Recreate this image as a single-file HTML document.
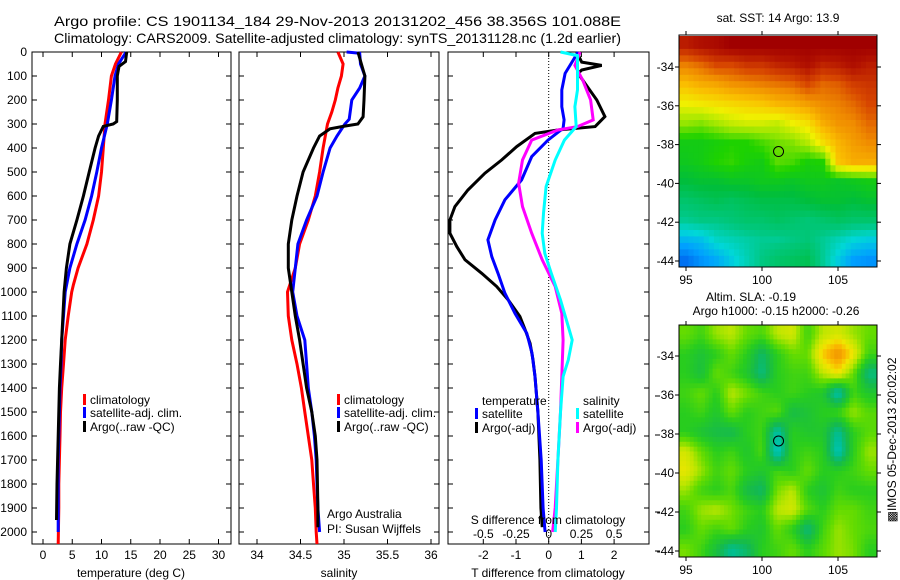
<!DOCTYPE html>
<html><head><meta charset="utf-8"><title>Argo profile</title>
<style>
html,body{margin:0;padding:0;background:#fff;}
svg{display:block;font-family:"Liberation Sans",sans-serif;}
text{fill:#000;}
</style></head>
<body>
<svg id="fig" width="900" height="580" viewBox="0 0 900 580" xmlns="http://www.w3.org/2000/svg">
<rect x="0" y="0" width="900" height="580" fill="#fff"/>
<text x="54" y="26" font-size="14" textLength="567" lengthAdjust="spacingAndGlyphs">Argo profile: CS 1901134_184 29-Nov-2013 20131202_456 38.356S 101.088E</text>
<text x="54" y="43" font-size="14" textLength="567" lengthAdjust="spacingAndGlyphs">Climatology: CARS2009. Satellite-adjusted climatology: synTS_20131128.nc (1.2d earlier)</text>
<g id="g-temp"></g>
<g id="g-sal"></g>
<g id="g-diff"></g>
<g id="g-sst"></g>
<g id="g-sla"></g>
<text x="778" y="22" font-size="12" text-anchor="middle">sat. SST: 14 Argo: 13.9</text>
<text x="751" y="301" font-size="12" text-anchor="middle">Altim. SLA: -0.19</text>
<text x="776" y="315" font-size="12" text-anchor="middle">Argo h1000: -0.15 h2000: -0.26</text>
<text x="0" y="0" font-size="12" text-anchor="middle" transform="translate(896,440) rotate(-90)">&#9641;IMOS 05-Dec-2013 20:02:02</text>
</svg>
<script>
// ---------- profile data ----------
const tempClimDepth = [0,50,100,200,300,400,500,600,700,800,900,970,1000,1100,1200,1300,1400,1500,1600,1700,1800,1900,2050];
const tempClim = [13.4,12.4,11.7,11.2,10.6,10.3,10.0,9.5,8.6,7.5,6.0,5.2,4.9,4.3,3.8,3.5,3.2,3.0,2.9,2.8,2.7,2.7,2.6];
const tempSatDepth = [0,50,100,200,300,400,500,600,700,800,900,1000,1100,1200,1300,1400,1500,1600,1700,1800,1900,2000];
const tempSat = [14.2,12.9,12.3,11.7,11.0,10.0,9.2,8.3,7.2,5.8,4.6,3.8,3.5,3.2,3.1,2.9,2.8,2.7,2.6,2.6,2.6,2.6];
const tempArgoDepth = [0,40,60,100,200,290,300,310,350,400,500,600,700,800,900,1000,1100,1200,1300,1400,1500,1600,1800,1950];
const tempArgo = [14.3,14.1,13.0,12.7,12.7,12.6,12.0,10.3,9.5,8.9,7.9,6.9,5.8,4.6,4.0,3.6,3.4,3.2,3.0,2.8,2.7,2.6,2.4,2.3];

const salClimDepth = [0,50,100,150,200,250,300,400,500,600,700,800,900,1000,1100,1200,1300,1400,1500,1600,1700,1800,1900,2000,2050];
const salClim = [34.93,34.99,34.97,34.93,34.90,34.86,34.81,34.76,34.72,34.67,34.59,34.49,34.44,34.35,34.36,34.40,34.46,34.51,34.55,34.59,34.63,34.65,34.67,34.68,34.69];
const salSatDepth = [0,5,50,100,150,200,280,300,350,400,500,600,700,800,900,1000,1100,1200,1300,1400,1500,1600,1700,1800,1900,2000];
const salSat = [35.03,35.18,35.19,35.24,35.18,35.09,35.06,35.01,34.92,34.84,34.76,34.69,34.57,34.47,34.44,34.41,34.46,34.55,34.57,34.59,34.63,34.66,34.68,34.69,34.70,34.72];
const salArgoDepth = [0,50,100,200,270,300,310,320,350,400,500,600,700,800,900,1000,1100,1200,1300,1400,1500,1600,1700,1900,1980];
const salArgo = [35.16,35.20,35.24,35.23,35.22,35.16,34.99,34.84,34.72,34.65,34.53,34.46,34.40,34.36,34.36,34.40,34.44,34.49,34.53,34.57,34.63,34.67,34.69,34.70,34.70];

const dTArgoDepth = [0,42,56,75,89,131,200,269,311,325,339,394,450,505,575,644,700,755,811,866,922,977,1033,1102,1158,1214,1283,1352,1500,1700,1900,1980];
const dTArgo = [0.86,1.01,1.62,1.01,0.90,1.11,1.47,1.72,1.42,0.28,-0.42,-0.98,-1.44,-1.95,-2.47,-2.87,-3.02,-3.02,-2.81,-2.56,-2.05,-1.59,-1.24,-0.88,-0.72,-0.57,-0.48,-0.42,-0.33,-0.27,-0.24,-0.20];
const dTSatDepth = [0,56,89,158,228,283,318,367,436,533,616,700,783,853,922,1005,1089,1172,1255,1352,1500,1700,1900,2000];
const dTSat = [0.90,0.65,0.50,0.40,0.40,0.47,0.44,-0.02,-0.52,-0.83,-1.34,-1.64,-1.86,-1.74,-1.55,-1.34,-1.03,-0.67,-0.51,-0.42,-0.33,-0.23,-0.17,-0.11];
const dSArgoDepth = [0,56,117,200,283,311,325,367,450,547,644,755,866,977,1089,1200,1352,1500,1700,1900,2000];
const dSArgo = [0.24,0.20,0.26,0.32,0.34,0.22,0.07,-0.13,-0.20,-0.23,-0.20,-0.13,-0.05,0.05,0.10,0.11,0.10,0.09,0.07,0.05,0.03];
const dSSatDepth = [0,15,56,158,228,311,367,450,561,672,755,839,922,1033,1144,1200,1283,1352,1500,1700,1900,2000];
const dSSat = [0.09,0.22,0.22,0.22,0.20,0.21,0.12,0.05,-0.02,-0.04,-0.05,-0.03,0.02,0.09,0.15,0.18,0.15,0.11,0.09,0.07,0.06,0.05];

const depthTicks = [0,100,200,300,400,500,600,700,800,900,1000,1100,1200,1300,1400,1500,1600,1700,1800,1900,2000];
const tempTicks = [0,5,10,15,20,25,30];
const salTicks = [34,34.5,35,35.5,36];
const dTTicks = [-2,-1,0,1,2];
const dSTicks = [-0.5,-0.25,0,0.25,0.5];
const dSTickLabels = ["-0.5","-0.25","0","0.25","0.5"];

// ---------- map data ----------
const lonTicks = [95,100,105];
const latTicks = [-34,-36,-38,-40,-42,-44];
const mapLons = [95,96,97,98,99,100,101,102,103,104,105,106,107];
const mapLats = [-32.9,-33.9,-34.9,-35.9,-36.9,-37.9,-38.9,-39.9,-40.9,-41.9,-42.9,-43.9];
const sstRow0 = [17.3,17.5,17.6,17.8,17.8,17.8,17.8,17.8,17.8,17.8,17.8,17.8,17.8];
const sstRow1 = [16.3,16.5,16.8,16.8,17,17,17.2,17.3,17.5,17.2,17.3,17.5,17.3];
const sstRow2 = [15.6,15.8,15.9,16.1,16.2,16.3,16.4,16.5,16.8,16.5,16.6,16.9,17];
const sstRow3 = [15,15.1,15.2,15.3,15.4,15.5,15.7,15.8,16,16.2,16.3,16.5,16.8];
const sstRow4 = [14.4,14.3,14.5,14.7,14.8,14.8,14.7,15,15.2,15.8,16.1,16.2,16.5];
const sstRow5 = [13.6,13.6,13.7,13.8,13.8,14,14.2,14.3,14.6,15.2,15.7,16,16.2];
const sstRow6 = [13.5,13.6,13.8,13.9,13.7,13.6,14.1,14,13.7,13.8,15.5,15.8,15.8];
const sstRow7 = [13.2,13.3,13.3,13.4,13.4,13.5,13.5,13.4,13.5,13.5,13.4,13.5,13.6];
const sstRow8 = [12.8,12.9,13.0,12.9,13.0,13.1,13.1,13.1,13.2,13.3,13.3,13.2,13.3];
const sstRow9 = [12.5,12.6,12.6,12.7,12.8,12.8,12.9,12.8,12.7,12.8,12.9,12.8,12.8];
const sstRow10 = [11.8,11.9,12.2,12.3,12.4,12.5,12.5,12.6,12.7,12.5,12.3,12.1,12.0];
const sstRow11 = [11.2,11.5,11.7,12.0,12.3,12.6,12.8,12.9,13.0,12.5,12,11.6,11.5];
const slaRow0 = [0.05,0.02,0.08,0.1,0.05,0.03,0.1,0.12,0.02,0.1,0.12,0.08,0.05];
const slaRow1 = [0,-0.03,0,0.05,0,-0.08,0,0.05,0.05,0.18,0.26,0.15,0.02];
const slaRow2 = [0,-0.04,0.05,0.02,-0.02,-0.1,0,0.02,0.02,0.1,0.15,0.05,-0.1];
const slaRow3 = [0.02,0.05,0,0.1,0.06,0.02,0,0.02,0,-0.02,-0.15,0.02,-0.02];
const slaRow4 = [0,0.02,-0.02,0.05,0,0.02,0.04,-0.05,-0.03,0,0.02,0.08,0.04];
const slaRow5 = [0,-0.03,-0.05,-0.06,0,0.02,-0.14,0,-0.02,-0.02,-0.12,0,0.04];
const slaRow6 = [0.12,0.05,0,0.02,-0.02,0.03,-0.17,0,0.02,0,-0.16,0,0.08];
const slaRow7 = [0.14,0.08,0.02,0.05,0,-0.02,0.02,0,0.05,0,0,0.02,0.05];
const slaRow8 = [0.08,0.02,0,0.03,-0.05,-0.08,0.06,0.1,0,-0.03,0.02,0,0];
const slaRow9 = [0.02,0.08,0.1,0.06,0.02,0,0.1,0.12,0.04,0,0.05,0.05,0.02];
const slaRow10 = [0,0.05,0.02,0.05,0,-0.02,0.05,0,-0.1,0.02,0.08,0.05,0.03];
const slaRow11 = [0.06,0.02,-0.04,-0.12,-0.08,0,0.02,0.05,0,0.04,0.08,0.06,0];
const argoLon = 101.088;
const argoLat = -38.356;

// ---------- helpers ----------
const NS = "http://www.w3.org/2000/svg";
function mk(parent, tag, attrs){
  const e = document.createElementNS(NS, tag);
  for (const k in attrs) e.setAttribute(k, attrs[k]);
  parent.appendChild(e);
  return e;
}
const TOP = 52, BOT = 544;
function yDepth(d){ return TOP + d*0.24; }

function frame(g, x0, x1, name){
  const r = mk(g, 'rect', {x:x0, y:TOP, width:x1-x0, height:BOT-TOP, fill:'none', stroke:'#000', 'stroke-width':1});
  
  
  depthTicks.forEach(d => {
    const y = yDepth(d);
    const t1 = mk(g, 'line', {x1:x0, x2:x0+5, y1:y, y2:y, stroke:'#000'});
    
    
    const t2 = mk(g, 'line', {x1:x1, x2:x1-5, y1:y, y2:y, stroke:'#000'});
    
    
  });
}
function xTicks(g, ticks, fx, labels, ly, showLabels){
  ticks.forEach((v,i) => {
    const x = fx(v);
    const a = mk(g, 'line', {x1:x, x2:x, y1:TOP, y2:TOP+5, stroke:'#000'});
    
    
    const b = mk(g, 'line', {x1:x, x2:x, y1:BOT, y2:BOT-5, stroke:'#000'});
    
    
    if (showLabels){
      const t = mk(g, 'text', {x:x, y:ly, 'font-size':12, 'text-anchor':'middle'});
      t.textContent = labels[i];
      
      
    }
  });
}
function profile(g, depths, vals, fx, color, name){
  const pts = depths.map((d,i) => fx(vals[i]).toFixed(1)+','+yDepth(d).toFixed(1)).join(' ');
  const p = mk(g, 'polyline', {points:pts, fill:'none', stroke:color, 'stroke-width':3, 'stroke-linejoin':'miter'});
  
  
}
function legendEntry(g, x, y, color, label){
  const m = mk(g, 'rect', {x:x, y:y-10, width:3, height:11, fill:color});
  
  
  const t = mk(g, 'text', {x:x+7, y:y, 'font-size':12});
  t.textContent = label;
  
  
}
function label(g, x, y, txt, name, anchor){
  const t = mk(g, 'text', {x:x, y:y, 'font-size':12, 'text-anchor':anchor||'middle'});
  t.textContent = txt;
  
  
  return t;
}

// ---------- temperature panel ----------
const gT = document.getElementById('g-temp');
const fxT = v => 43 + v*5.85;
frame(gT, 32, 231, 'temperature-axes');
xTicks(gT, tempTicks, fxT, tempTicks.map(String), 559, true);
depthTicks.forEach(d => { label(gT, 27, yDepth(d)+4, String(d), 'depth-tick-label', 'end'); });
profile(gT, tempClimDepth, tempClim, fxT, '#ff0000', 'temp-climatology-line');
profile(gT, tempSatDepth, tempSat, fxT, '#0000ff', 'temp-satellite-line');
profile(gT, tempArgoDepth, tempArgo, fxT, '#000000', 'temp-argo-line');
legendEntry(gT, 83, 404, '#ff0000', 'climatology');
legendEntry(gT, 83, 417, '#0000ff', 'satellite-adj. clim.');
legendEntry(gT, 83, 431, '#000000', 'Argo(..raw -QC)');
label(gT, 131, 577, 'temperature (deg C)', 'x-axis-title');

// ---------- salinity panel ----------
const gS = document.getElementById('g-sal');
const fxS = v => 257 + (v-34)*87;
frame(gS, 239, 439, 'salinity-axes');
xTicks(gS, salTicks, fxS, salTicks.map(String), 559, true);
profile(gS, salClimDepth, salClim, fxS, '#ff0000', 'sal-climatology-line');
profile(gS, salSatDepth, salSat, fxS, '#0000ff', 'sal-satellite-line');
profile(gS, salArgoDepth, salArgo, fxS, '#000000', 'sal-argo-line');
legendEntry(gS, 337, 404, '#ff0000', 'climatology');
legendEntry(gS, 337, 417, '#0000ff', 'satellite-adj. clim.');
legendEntry(gS, 337, 431, '#000000', 'Argo(..raw -QC)');
label(gS, 327, 518, 'Argo Australia', 'credit-line-1', 'start');
label(gS, 327, 533, 'PI: Susan Wijffels', 'credit-line-2', 'start');
label(gS, 339, 577, 'salinity', 'x-axis-title');

// ---------- difference panel ----------
const gD = document.getElementById('g-diff');
const fxDT = v => 548.7 + v*32.7;
const fxDS = v => 548.7 + v*130.8;
frame(gD, 448, 649, 'difference-axes');
xTicks(gD, dTTicks, fxDT, dTTicks.map(String), 559, true);
dSTicks.forEach((v,i) => { label(gD, fxDS(v), 538, dSTickLabels[i], 's-diff-tick-label'); });
const zl = mk(gD, 'line', {x1:fxDT(0), x2:fxDT(0), y1:TOP, y2:BOT, stroke:'#000', 'stroke-dasharray':'1,2'});


profile(gD, dTArgoDepth, dTArgo, fxDT, '#000000', 't-diff-argo-line');
profile(gD, dTSatDepth, dTSat, fxDT, '#0000ff', 't-diff-satellite-line');
profile(gD, dSArgoDepth, dSArgo, fxDS, '#ff00ff', 's-diff-argo-line');
profile(gD, dSSatDepth, dSSat, fxDS, '#00ffff', 's-diff-satellite-line');
label(gD, 482, 405, 'temperature', 'legend-title-temperature', 'start');
legendEntry(gD, 475, 418, '#0000ff', 'satellite');
legendEntry(gD, 475, 432, '#000000', 'Argo(-adj)');
label(gD, 583, 405, 'salinity', 'legend-title-salinity', 'start');
legendEntry(gD, 576, 418, '#00ffff', 'satellite');
legendEntry(gD, 576, 432, '#ff00ff', 'Argo(-adj)');
label(gD, 548, 524, 'S difference from climatology', 's-axis-title');
label(gD, 548, 577, 'T difference from climatology', 'x-axis-title');
[396,435,474,512,551].forEach(y => {
  const t = mk(gD, 'line', {x1:655, x2:660, y1:y, y2:y, stroke:'#000'});
  
  
});

// ---------- maps ----------
function lerpColor(stops, v){
  if (v <= stops[0][0]) return 'rgb('+stops[0][1].join(',')+')';
  for (let i=1;i<stops.length;i++){
    if (v <= stops[i][0]){
      const a = stops[i-1], b = stops[i], f = (v-a[0])/(b[0]-a[0]);
      const c = a[1].map((x,k) => Math.round(x + (b[1][k]-x)*f));
      return 'rgb('+c.join(',')+')';
    }
  }
  return 'rgb('+stops[stops.length-1][1].join(',')+')';
}
const sstStops = [[11.0,[0,90,235]],[11.6,[0,160,255]],[12.1,[0,215,215]],[12.6,[0,200,130]],[13.2,[0,190,60]],[13.8,[30,210,0]],[14.4,[150,230,0]],[15.0,[240,240,0]],[15.6,[250,190,0]],[16.2,[240,140,0]],[16.8,[215,70,0]],[17.4,[180,20,0]],[17.8,[160,0,0]]];
const slaStops = [[-0.2,[0,210,225]],[-0.12,[0,190,150]],[-0.06,[20,185,80]],[0,[40,205,30]],[0.05,[100,220,0]],[0.1,[190,230,0]],[0.15,[240,230,0]],[0.2,[250,180,0]],[0.28,[235,130,0]]];
const sstRows = [sstRow0,sstRow1,sstRow2,sstRow3,sstRow4,sstRow5,sstRow6,sstRow7,sstRow8,sstRow9,sstRow10,sstRow11];
const slaRows = [slaRow0,slaRow1,slaRow2,slaRow3,slaRow4,slaRow5,slaRow6,slaRow7,slaRow8,slaRow9,slaRow10,slaRow11];

// bilinear sample of a grid at fractional (col,row)
function sampleGrid(rows, c, r){
  const nr = rows.length, nc = rows[0].length;
  c = Math.max(0, Math.min(nc-1, c)); r = Math.max(0, Math.min(nr-1, r));
  const c0 = Math.floor(c), r0 = Math.floor(r);
  const c1 = Math.min(nc-1, c0+1), r1 = Math.min(nr-1, r0+1);
  const fc = c-c0, fr = r-r0;
  const top = rows[r0][c0]*(1-fc) + rows[r0][c1]*fc;
  const bot = rows[r1][c0]*(1-fc) + rows[r1][c1]*fc;
  return top*(1-fr) + bot*fr;
}

function drawMap(g, y0, y1, yLat34, pxPerLat, rows, stops, name, sub){
  const x0 = 679, x1 = 877;
  const fx = lon => 686 + (lon-95)*15.2;
  const fy = lat => yLat34 + (-34-lat)*pxPerLat;
  const clip = mk(g, 'clipPath', {id:'clip-'+name});
  mk(clip, 'rect', {x:x0, y:y0, width:x1-x0, height:y1-y0});
  const cells = mk(g, 'g', {'clip-path':'url(#clip-'+name+')'});
  
  
  const nr = rows.length, nc = rows[0].length;
  const cw = 15.2/sub, ch = pxPerLat/sub;
  for (let r=0; r<nr*sub; r++){
    for (let c=0; c<nc*sub; c++){
      const gc = (c+0.5)/sub - 0.5, gr = (r+0.5)/sub - 0.5;
      const v = sub>1 ? sampleGrid(rows, gc, gr) : rows[r][c];
      const cx = fx(mapLons[0]) - 7.6 + c*cw;
      const cy = fy(mapLats[0]) - pxPerLat/2 + r*ch;
      const rc = mk(cells, 'rect', {x:cx.toFixed(1), y:cy.toFixed(1), width:(cw+0.5).toFixed(1), height:(ch+0.5).toFixed(1), fill:lerpColor(stops, v)});
      
      
    }
  }
  const fr = mk(g, 'rect', {x:x0, y:y0, width:x1-x0, height:y1-y0, fill:'none', stroke:'#000'});
  
  
  lonTicks.forEach(l => {
    const x = fx(l);
    const a = mk(g, 'line', {x1:x, x2:x, y1:y0, y2:y0-4, stroke:'#000'});
    
    
    const b = mk(g, 'line', {x1:x, x2:x, y1:y1, y2:y1+4, stroke:'#000'});
    
    
    label(g, x, y1+17, String(l), 'lon-tick-label');
  });
  latTicks.forEach(l => {
    const y = fy(l);
    const a = mk(g, 'line', {x1:x0, x2:x0-4, y1:y, y2:y, stroke:'#000'});
    
    
    const b = mk(g, 'line', {x1:x1, x2:x1+4, y1:y, y2:y, stroke:'#000'});
    
    
    label(g, 674, y+4, String(l), 'lat-tick-label', 'end');
  });
  const m = mk(g, 'circle', {cx:fx(argoLon), cy:fy(argoLat), r:5, fill:'none', stroke:'#000', 'stroke-width':1});
  
  
}
drawMap(document.getElementById('g-sst'), 35, 267, 67, 19.4, sstRows, sstStops, 'sst-map', 3);
drawMap(document.getElementById('g-sla'), 325, 557, 356, 19.5, slaRows, slaStops, 'sla-map', 4);
</script>
</body></html>
